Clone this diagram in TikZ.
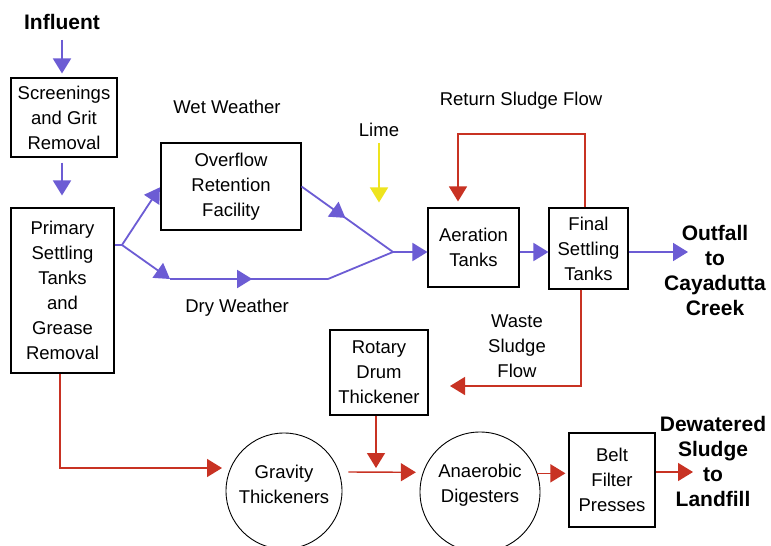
\documentclass[tikz,border=0pt]{standalone}
\usepackage{fontspec}
\setmainfont{Liberation Sans}
\usetikzlibrary{arrows.meta,decorations.markings,calc}
\definecolor{pur}{RGB}{108,92,212}
\definecolor{redl}{RGB}{200,50,35}
\definecolor{yel}{RGB}{238,228,30}
\begin{document}
\begin{tikzpicture}[x=1pt,y=-1pt,
  txt/.style={font=\fontsize{18.5}{25}\selectfont, align=center, inner sep=0pt},
  btxt/.style={font=\bfseries\fontsize{21}{25}\selectfont, align=center, inner sep=0pt},
  box/.style={draw=black, line width=1.1pt, rectangle, txt},
  circ/.style={draw=black, line width=0.9pt, circle, inner sep=0pt},
  tip/.style={-{Triangle[length=15pt,width=18pt]}},
  pline/.style={draw=pur, line width=1.8pt},
  parrow/.style={pline, tip},
  rline/.style={draw=redl, line width=1.4pt},
  rarrow/.style={rline, tip},
  yarrow/.style={draw=yel, line width=1.6pt, tip},
  midp/.style={decoration={markings, mark=at position #1 with {\arrow{Triangle[length=15pt,width=18pt]}}}, postaction={decorate}}
]
\useasboundingbox[fill=white] (0,0) rectangle (771,546);

% nodes
\node[btxt] (inf) at (62,22) {Influent};
\node[box, minimum width=106pt, minimum height=79pt] (scr) at (64,117.5) {Screenings\\and Grit\\Removal};
\node[box, minimum width=103pt, minimum height=165pt] (prim) at (62.5,290.5) {Primary\\Settling\\Tanks\\and\\Grease\\Removal};
\node[box, minimum width=140pt, minimum height=87pt] (ovf) at (231,186.5) {Overflow\\Retention\\Facility};
\node[box, minimum width=91pt, minimum height=79pt] (aer) at (473.5,247.5) {Aeration\\Tanks};
\node[box, minimum width=79pt, minimum height=81pt] (fin) at (588.5,248.5) {Final\\Settling\\Tanks};
\node[box, minimum width=98pt, minimum height=85pt] (rot) at (379,372.5) {Rotary\\Drum\\Thickener};
\node[box, minimum width=86pt, minimum height=94pt] (belt) at (612,480) {Belt\\Filter\\Presses};
\node[circ, minimum size=116pt] (grav) at (284,491) {};
\node[txt] (gravt) at (284,484) {Gravity\\Thickeners};
\node[circ, minimum size=120pt] (ana) at (480,492) {};
\node[txt] (anat) at (480,485) {Anaerobic\\Digesters};

\node[txt] (wet) at (227,107) {Wet Weather};
\node[txt] (dry) at (237,308) {Dry Weather};
\node[txt] (lime) at (379,130) {Lime};
\node[txt] (ret) at (521,101) {Return Sludge Flow};
\node[txt] (waste) at (517,346) {Waste\\Sludge\\Flow};
\node[btxt] (out) at (715,270) {Outfall\\to\\Cayadutta\\Creek};
\node[btxt] (dew) at (713,461) {Dewatered\\Sludge\\to\\Landfill};

% coordinates
\coordinate (x62) at (62,0);
\coordinate (j1) at (122,245);
\coordinate (j2) at (393,252);
\coordinate (d1) at (170,279);
\coordinate (d2) at (328,279);
\coordinate (oa) at (688,252);
\coordinate (r1) at (585,134);
\coordinate (r2) at (458,134);
\coordinate (w1) at (581,386);
\coordinate (w2) at (450,386);
\coordinate (rd) at (376,468);
\coordinate (px) at (60,0);
\coordinate (pg) at (222,468);
\coordinate (da) at (693,472);

% purple flow
\draw[parrow, shorten <=10pt, shorten >=4pt] (inf.south -| x62) -- (scr.north -| x62);
\draw[parrow, shorten <=5pt, shorten >=12pt] (scr.south -| x62) -- (prim.north -| x62);
\draw[pline] (prim.east |- j1) -- (j1);
\draw[parrow, shorten >=1pt] (j1) -- (ovf.west);
\draw[parrow] (j1) -- (d1);
\draw[pline, midp=0.52] (d1) -- (d2);
\draw[pline] (d2) -- (j2);
\draw[pline, midp=0.48] (ovf.east) -- (j2);
\draw[parrow] (j2) -- (aer.west |- j2);
\draw[parrow] (aer.east |- j2) -- (fin.west |- j2);
\draw[parrow] (fin.east |- j2) -- (oa);

% lime
\draw[yarrow, shorten <=6pt, shorten >=5pt] (lime.south) -- (lime.south |- aer.north);

% red sludge lines
\draw[rarrow, shorten >=6pt] (fin.north -| r1) -- (r1) -- (r2) -- (aer.north -| r2);
\draw[rarrow] (fin.south -| w1) -- (w1) -- (w2);
\draw[rarrow] (rot.south -| rd) -- (rd);
\draw[rarrow] (prim.south -| px) |- (pg);
\draw[rarrow, shorten <=9pt, shorten >=7pt] (grav.19) -- (ana.161);
\draw[rarrow, shorten >=3pt] (ana.18) -- (belt.west |- ana.18);
\draw[rarrow] (belt.east |- da) -- (da);
\end{tikzpicture}
\end{document}
